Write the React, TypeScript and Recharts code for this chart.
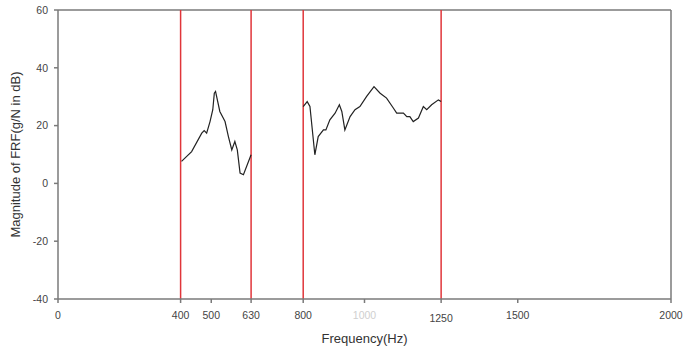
import React from 'react';
import { LineChart, Line, XAxis, YAxis, ReferenceLine, Label } from 'recharts';

// Measured FRF magnitude, first band (400–630 Hz)
const bandAFreq = [403, 436, 469, 477, 485, 496, 505, 510, 514, 528, 545, 556, 567, 577, 585, 594, 605, 630];
const bandAMag = [7.6, 11.0, 17.4, 18.3, 17.4, 21.4, 25.5, 31.2, 31.8, 24.9, 21.4, 16.2, 11.6, 14.5, 11.6, 3.6, 3.0, 9.9];

// Measured FRF magnitude, second band (800–1250 Hz)
const bandBFreq = [800, 813, 822, 838, 849, 866, 874, 887, 904, 918, 926, 936, 953, 969, 985, 1007, 1031, 1051, 1072, 1094, 1105, 1127, 1138, 1148, 1159, 1176, 1192, 1203, 1219, 1241, 1250];
const bandBMag = [26.6, 28.3, 26.6, 9.9, 16.2, 18.5, 18.5, 22.0, 24.3, 27.2, 24.9, 18.5, 23.1, 25.5, 26.6, 30.1, 33.5, 31.2, 29.5, 26.1, 24.3, 24.3, 23.1, 23.1, 21.4, 22.6, 26.6, 25.5, 27.2, 28.9, 28.3];

// Band edges marked with vertical lines
const bandEdges = [400, 630, 800, 1250];

const xTicks = [0, 400, 500, 630, 800, 1000, 1250, 1500, 2000];
const yTicks = [-40, -20, 0, 20, 40, 60];

const bandA = bandAFreq.map((f, i) => ({ f, v: bandAMag[i] }));
const bandB = bandBFreq.map((f, i) => ({ f, v: bandBMag[i] }));

const FONT = '"Liberation Sans", Arial, sans-serif';
const AXIS = '#7a7a7a';

const XTick = (props: any) => {
  const { x, y, payload } = props;
  const v = payload.value;
  const faded = v === 1000;
  const drop = v === 1250 ? 3 : 0;
  return (
    <text
      x={x}
      y={y + drop}
      dy="0.71em"
      textAnchor="middle"
      fill={faded ? '#cfcfcf' : '#444'}
      fontSize={10.5}
      fontFamily={FONT}
    >
      {v}
    </text>
  );
};

export default function App() {
  return (
    <div style={{ position: 'absolute', left: 0, top: 0, background: '#fff' }}>
      <LineChart
        width={683}
        height={349}
        margin={{ top: 10, right: 12, bottom: 0, left: 0 }}
      >
        <XAxis
          dataKey="f"
          type="number"
          domain={[0, 2000]}
          ticks={xTicks}
          interval={0}
          allowDuplicatedCategory={false}
          height={50}
          stroke={AXIS}
          strokeWidth={1.5}
          tickSize={4}
          tickMargin={9}
          tick={<XTick />}
        >
          <Label
            value="Frequency(Hz)"
            position="insideBottom"
            offset={6}
            fill="#333"
            fontSize={13}
            fontFamily={FONT}
          />
        </XAxis>
        <YAxis
          type="number"
          domain={[-40, 60]}
          ticks={yTicks}
          interval={0}
          width={58}
          stroke={AXIS}
          strokeWidth={1.5}
          tickSize={4}
          tickMargin={6}
          tick={{ fill: '#444', fontSize: 10.5, fontFamily: FONT }}
        >
          <Label
            value="Magnitude of FRF(g/N in dB)"
            angle={-90}
            position="center"
            dx={-14}
            fill="#333"
            fontSize={13}
            fontFamily={FONT}
          />
        </YAxis>
        <ReferenceLine y={60} stroke={AXIS} strokeWidth={1.5} />
        <ReferenceLine x={2000} stroke={AXIS} strokeWidth={1.5} />
        {bandEdges.map((e) => (
          <ReferenceLine key={e} x={e} stroke="#e0353a" strokeWidth={1.5} />
        ))}
        <Line
          data={bandA}
          dataKey="v"
          stroke="#222"
          strokeWidth={1.2}
          dot={false}
          isAnimationActive={false}
        />
        <Line
          data={bandB}
          dataKey="v"
          stroke="#222"
          strokeWidth={1.2}
          dot={false}
          isAnimationActive={false}
        />
      </LineChart>
    </div>
  );
}
